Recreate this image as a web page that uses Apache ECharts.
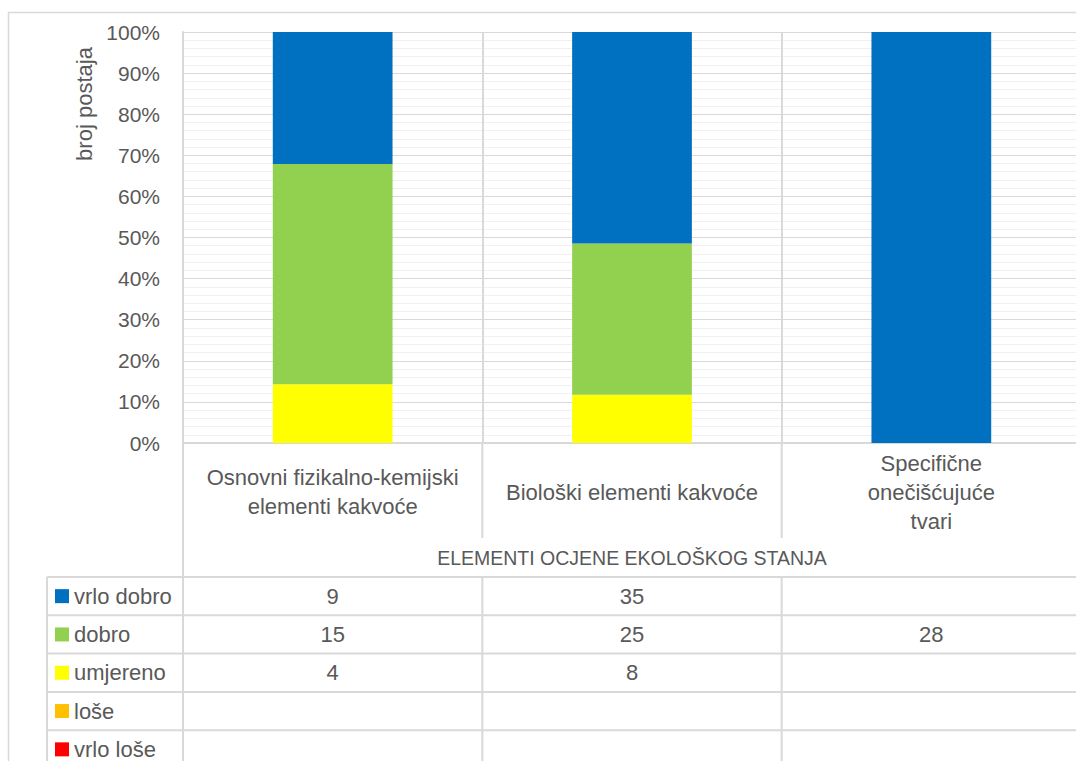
<!DOCTYPE html>
<html><head><meta charset="utf-8">
<script src="https://cdn.jsdelivr.net/npm/echarts@6/dist/echarts.min.js"></script>
<style>html,body{margin:0;padding:0;overflow:hidden;background:#fff}#c{width:1090px;height:761px}</style>
</head><body><div id="c"></div><script>
// ---- data ----
const categories = ['Osnovni fizikalno-kemijski\nelementi kakvoće', 'Biološki elementi kakvoće', 'Specifične\nonečišćujuće\ntvari'];
const seriesNames = ['vrlo dobro', 'dobro', 'umjereno', 'loše', 'vrlo loše'];
// counts behind the drawn (100% stacked) bars
const barVrloDobro = [9, 35, 28];
const barDobro = [15, 25, 0];
const barUmjereno = [4, 8, 0];
const barLose = [0, 0, 0];
const barVrloLose = [0, 0, 0];
// values as printed in the data table under the chart
const tableVrloDobro = [9, 35, null];
const tableDobro = [15, 25, 28];
const tableUmjereno = [4, 8, null];
const tableLose = [null, null, null];
const tableVrloLose = [null, null, null];
const yTickValues = [0, 10, 20, 30, 40, 50, 60, 70, 80, 90, 100];
const yAxisTitle = 'broj postaja';
const xAxisTitle = 'ELEMENTI OCJENE EKOLOŠKOG STANJA';

// ---- styles ----
const colors = { 'vrlo dobro': '#0070C0', 'dobro': '#92D050', 'umjereno': '#FFFF00', 'loše': '#FFC000', 'vrlo loše': '#FF0000' };
const txt = '#595959';
const lineC = '#d9d9d9';
const FONT = "'Liberation Sans', Arial, sans-serif";

const barSets = { 'vrlo dobro': barVrloDobro, 'dobro': barDobro, 'umjereno': barUmjereno, 'loše': barLose, 'vrlo loše': barVrloLose };
const tableSets = [tableVrloDobro, tableDobro, tableUmjereno, tableLose, tableVrloLose];
const totals = categories.map((c, i) => seriesNames.reduce((s, n) => s + barSets[n][i], 0));
const pct = arr => arr.map((v, i) => v ? v / totals[i] * 100 : null);

// stacking order: bottom first
const stackOrder = ['vrlo loše', 'loše', 'umjereno', 'dobro', 'vrlo dobro'];

const chart = echarts.init(document.getElementById('c'), null, { renderer: 'svg' });
const G = { left: 183, top: 32, bottom: 318, right: 9 };
chart.setOption({
  animation: false,
  textStyle: { fontFamily: FONT },
  grid: { left: G.left, top: G.top, bottom: G.bottom, right: G.right, containLabel: false },
  xAxis: {
    type: 'category', data: categories,
    axisLine: { show: true, lineStyle: { color: lineC, width: 2 } },
    axisTick: { show: false },
    splitLine: { show: true, lineStyle: { color: lineC, width: 2 } },
    axisLabel: { interval: 0, color: txt, fontSize: 22, lineHeight: 29, margin: 49, verticalAlign: 'middle', fontFamily: FONT },
    name: xAxisTitle, nameLocation: 'middle', nameGap: 105,
    nameTextStyle: { color: txt, fontSize: 19.5, fontFamily: FONT }
  },
  yAxis: {
    type: 'value', min: 0, max: 100, interval: 10,
    axisLine: { show: true, lineStyle: { color: lineC, width: 2 } },
    axisTick: { show: false },
    axisLabel: { color: txt, fontSize: 21, margin: 23, formatter: v => yTickValues.includes(v) ? v + '%' : '', fontFamily: FONT },
    splitLine: { show: true, lineStyle: { color: lineC, width: 1 } },
    minorTick: { show: false, splitNumber: 5 },
    minorSplitLine: { show: true, lineStyle: { color: '#f0f0f0', width: 1 } }
  },
  series: stackOrder.map(n => ({
    name: n, type: 'bar', stack: 'all', barCategoryGap: '60%',
    data: pct(barSets[n]),
    itemStyle: { color: colors[n] }
  }))
});

// ---- data table & outlines ----
const xs = categories.map((c, i) => chart.convertToPixel({ xAxisIndex: 0 }, i));
const catW = xs.length > 1 ? xs[1] - xs[0] : 300;
const bounds = [xs[0] - catW / 2].concat(xs.map(x => x + catW / 2));
const plotBottom = chart.convertToPixel({ yAxisIndex: 0 }, 0);
const tableTop = 577, rowH = 38.3, tableLeft = 47, BOTTOM = 900, RIGHT = 1200;
const g = [];
const line = (x1, y1, x2, y2, w) => g.push({ type: 'line', shape: { x1, y1, x2, y2 }, style: { stroke: lineC, lineWidth: w || 2 }, silent: true });
// outer chart border
g.push({ type: 'rect', shape: { x: 8.5, y: 12.5, width: 2000, height: 2000 }, style: { fill: 'none', stroke: lineC, lineWidth: 1.5 }, silent: true, z: -1 });
// category label area separators
line(bounds[0], plotBottom, bounds[0], BOTTOM);
bounds.slice(1).forEach(b => { line(b, plotBottom, b, 538); line(b, tableTop, b, BOTTOM); });
// table rows
for (let r = 0; r <= seriesNames.length; r++) line(tableLeft, tableTop + r * rowH, RIGHT, tableTop + r * rowH);
line(tableLeft, tableTop, tableLeft, BOTTOM);
seriesNames.forEach((n, r) => {
  const cy = tableTop + rowH * (r + 0.5);
  g.push({ type: 'rect', shape: { x: 55, y: cy - 7, width: 14, height: 14 }, style: { fill: colors[n] }, silent: true });
  g.push({ type: 'text', x: 74, y: cy, style: { text: n, fill: txt, fontSize: 22, fontFamily: FONT, align: 'left', verticalAlign: 'middle' }, silent: true });
  tableSets[r].forEach((v, i) => {
    if (v !== null) g.push({ type: 'text', x: xs[i], y: cy, style: { text: String(v), fill: txt, fontSize: 22, fontFamily: FONT, align: 'center', verticalAlign: 'middle' }, silent: true });
  });
});
// y axis title
g.push({ type: 'text', x: 84, y: 104, rotation: Math.PI / 2, style: { text: yAxisTitle, fill: txt, fontSize: 22, fontFamily: FONT, align: 'center', verticalAlign: 'middle' }, silent: true });
chart.setOption({ graphic: g });
</script></body></html>
